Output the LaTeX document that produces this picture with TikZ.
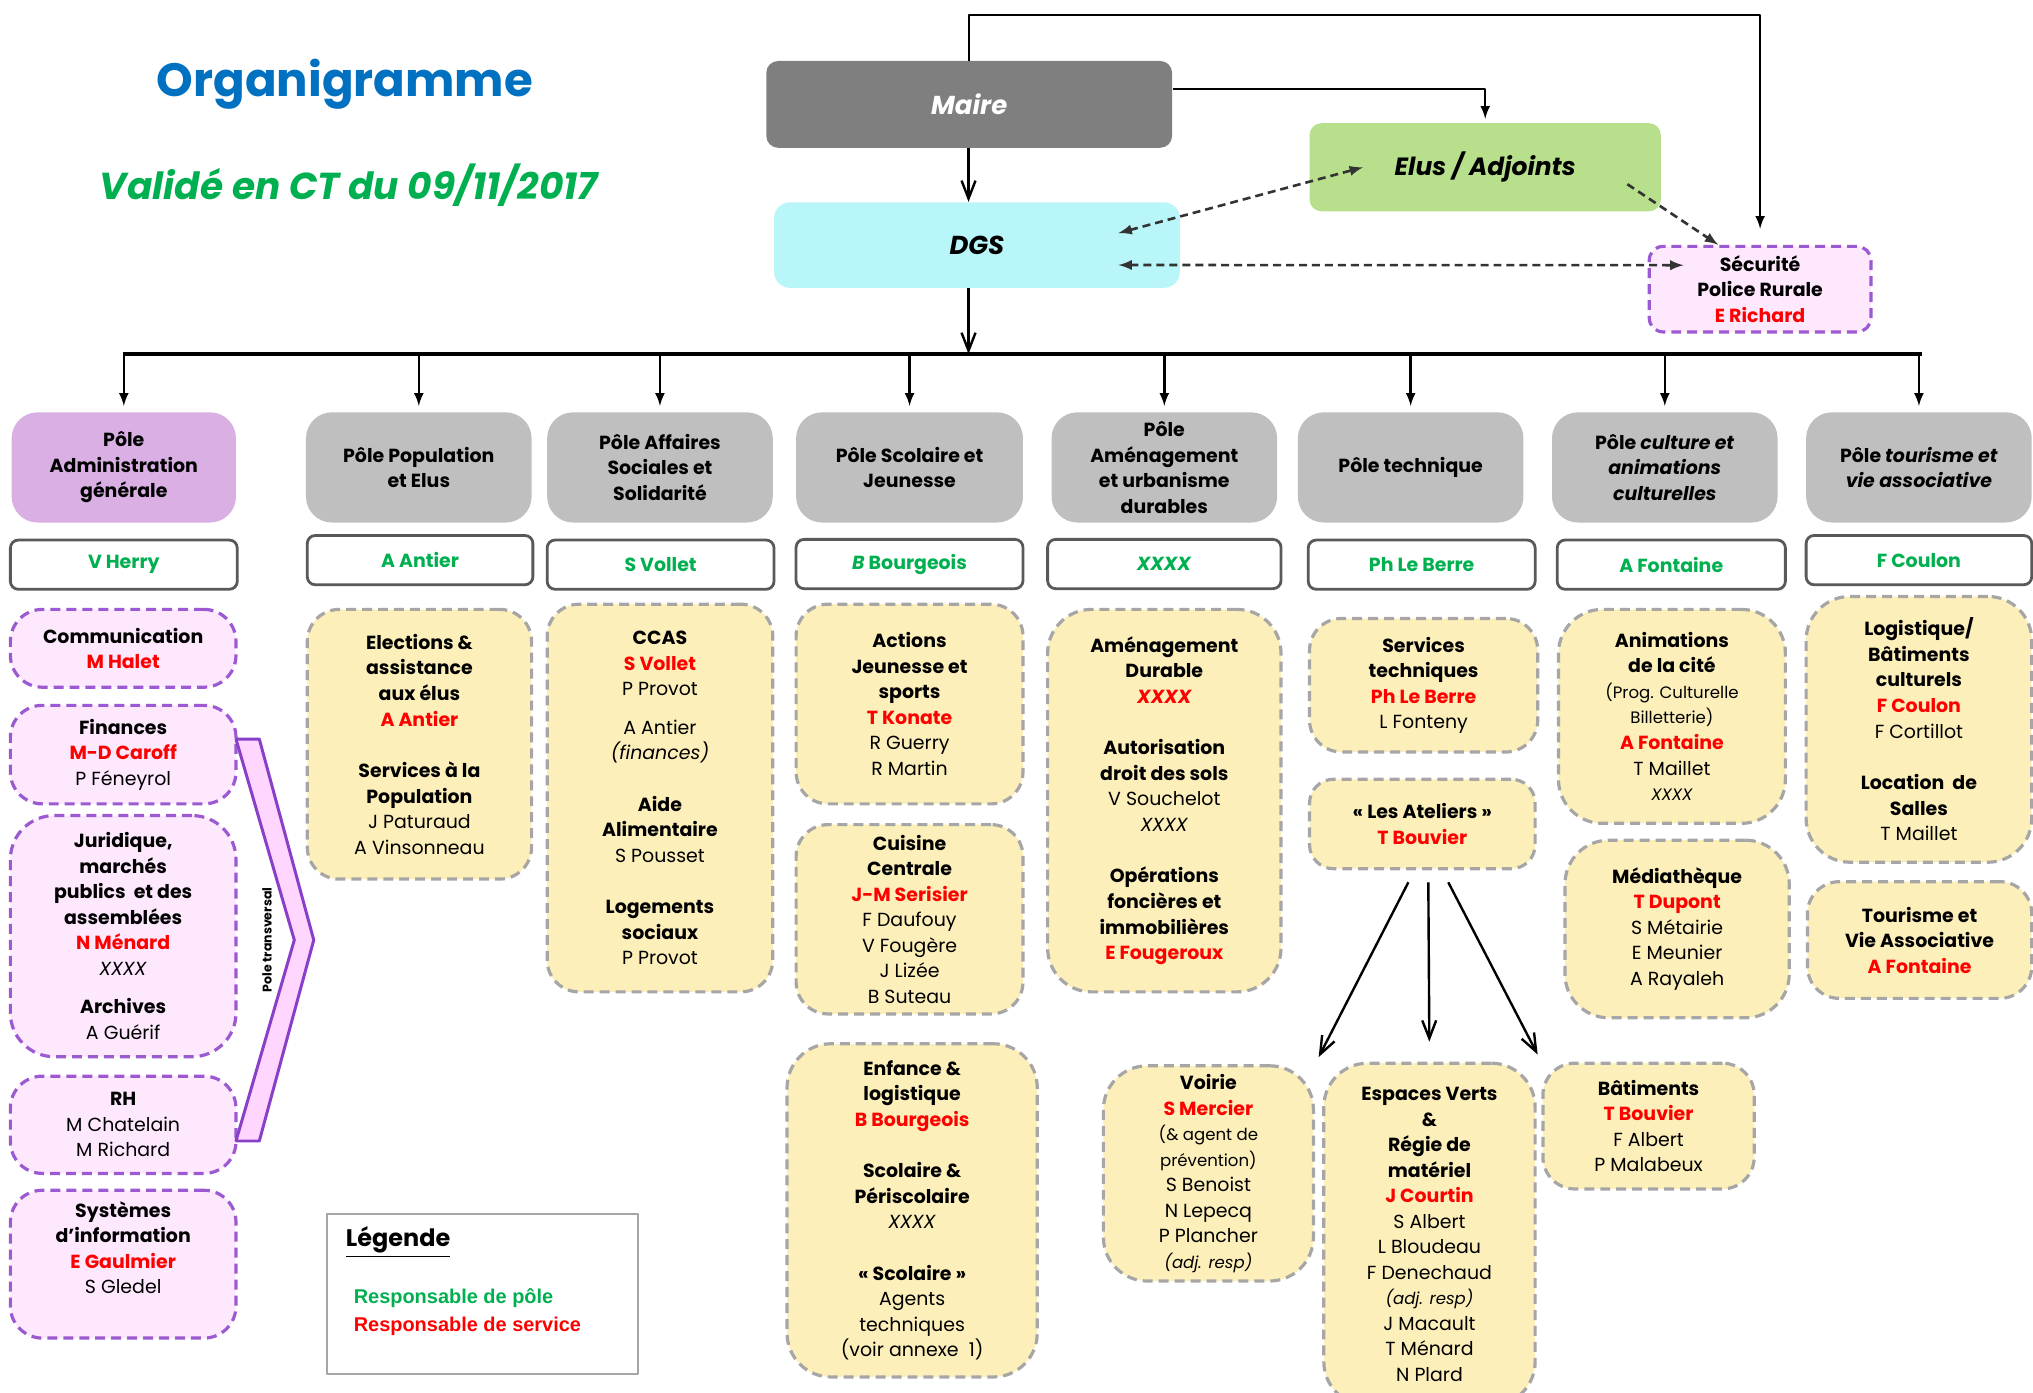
\documentclass[tikz,border=0pt]{standalone}
\usepackage{fontspec}
\setmainfont{Poppins}
\newfontfamily\legfam{Liberation Sans}
\usetikzlibrary{arrows.meta}
\definecolor{maireGray}{HTML}{7F7F7F}
\definecolor{elusGreen}{HTML}{B7DF8C}
\definecolor{dgsCyan}{HTML}{B9F6F9}
\definecolor{poleGray}{HTML}{BFBFBF}
\definecolor{admHead}{HTML}{D9AFE4}
\definecolor{admFill}{HTML}{FEE8FE}
\definecolor{admBorder}{HTML}{9B59D2}
\definecolor{svcFill}{HTML}{FCEFBA}
\definecolor{svcBorder}{HTML}{A6A6A6}
\definecolor{chefBorder}{HTML}{595959}
\definecolor{respGreen}{HTML}{00B050}
\definecolor{respRed}{HTML}{FF0000}
\definecolor{titleBlue}{HTML}{0070C0}
\definecolor{transvFill}{HTML}{FFD6FF}
\definecolor{transvLine}{HTML}{8A3FC8}
\definecolor{dlinkGray}{HTML}{333333}
\newcommand{\resp}[1]{\textcolor{respRed}{\bfseries #1}}
\newcommand{\petit}{\fontsize{8.3}{11}\selectfont}
\begin{document}
\begin{tikzpicture}[>=latex,line join=bevel,x=0.65pt,y=-0.65pt,
  every node/.style={font=\fontsize{9.5}{12.8}\selectfont,align=center,inner sep=1pt},
  sz/.style 2 args={minimum width=#1*0.65pt,minimum height=#2*0.65pt},
  head/.style={fill=poleGray,rounded corners=13pt,font=\fontsize{9.5}{12.8}\selectfont\bfseries},
  chef/.style={draw=chefBorder,line width=1.4pt,fill=white,rounded corners=4pt,text=respGreen,font=\fontsize{9.5}{12.8}\selectfont\bfseries},
  svc/.style={draw=svcBorder,fill=svcFill,line width=1.6pt,dash pattern=on 5pt off 3pt,rounded corners=16pt},
  adm/.style={svc,draw=admBorder,fill=admFill},
  link/.style={line width=1.2pt},
  barb/.style={link,-{Straight Barb[length=9pt,width=7pt]}},
  dlink/.style={line width=1.3pt,draw=dlinkGray,dash pattern=on 4pt off 2.5pt},
]
\useasboundingbox (0,0) rectangle (1568,1074);
%%
\node (node_titre) at (266,65) [text=titleBlue,font=\fontsize{23.4}{28}\selectfont\bfseries] {Organigramme};
\node (node_ct) at (269,143) [text=respGreen,font=\fontsize{18.8}{22}\selectfont\bfseries\itshape] {Validé en CT du 09/11/2017};
%
\node (node_maire) at (747.5,80.5) [fill=maireGray,rounded corners=6pt,sz={313}{67},text=white,font=\fontsize{13}{15}\selectfont\bfseries\itshape] {Maire};
\node (node_elus) at (1145.5,129) [fill=elusGreen,rounded corners=6pt,sz={271}{68},font=\fontsize{12.5}{15}\selectfont\bfseries\itshape] {Elus / Adjoints};
\node (node_dgs) at (753.5,189) [fill=dgsCyan,rounded corners=8pt,sz={313}{66},font=\fontsize{13}{15}\selectfont\bfseries\itshape] {DGS};
\node (node_secu) at (1357.5,223) [adm,sz={171}{66},rounded corners=7pt] {\textbf{Sécurité}\\ \textbf{Police Rurale}\\ \resp{E Richard}};
%
\draw [link,->,shorten >=8pt] (node_maire.north) -- ++(0,-35) -| (node_secu.north);
\draw [link,->,shorten >=2pt] (node_maire.east) ++(0,-12) -| (node_elus.north);
\draw [barb] (node_maire.south -| 747,0) -- (node_dgs.north -| 747,0);
\draw [dlink,<->] ([xshift=-31pt,yshift=6pt]node_dgs.east) -- ([xshift=27pt]node_elus.west);
\draw [dlink,<->] ([xshift=-31pt,yshift=-10pt]node_dgs.east) -- ([xshift=18pt,yshift=12pt]node_secu.west);
\draw [dlink,->] ([xshift=-17pt,yshift=-8.5pt]node_elus.east) -- ([xshift=-21pt]node_secu.north);
%
\coordinate (bus_l) at (95,273);
\coordinate (bus_r) at (1482,273);
\draw [line width=1.8pt] (bus_l) -- (bus_r);
\draw [barb] (node_dgs.south -| 747,0) -- (747,273);
%% poles
\node (node_pole1) at (95.5,360.5) [head,sz={173}{85},fill=admHead] {Pôle\\ Administration\\ générale};
\node (node_pole2) at (323,360.5) [head,sz={174}{85}] {Pôle Population\\ et Elus};
\node (node_pole3) at (509,360.5) [head,sz={174}{85}] {Pôle Affaires\\ Sociales et\\ Solidarité};
\node (node_pole4) at (701.5,360.5) [head,sz={175}{85}] {Pôle Scolaire et\\ Jeunesse};
\node (node_pole5) at (898,360.5) [head,sz={174}{85}] {Pôle\\ Aménagement\\ et urbanisme\\ durables};
\node (node_pole6) at (1088,360.5) [head,sz={174}{85}] {Pôle technique};
\node (node_pole7) at (1284,360.5) [head,sz={174}{85}] {Pôle \textit{culture et}\\ \textit{animations}\\ \textit{culturelles}};
\node (node_pole8) at (1480,360.5) [head,sz={174}{85}] {Pôle \textit{tourisme et}\\ \textit{vie associative}};
\draw [link,->,shorten >=3pt] (node_pole1.north |- bus_l) -- (node_pole1.north);
\draw [link,->,shorten >=3pt] (node_pole2.north |- bus_l) -- (node_pole2.north);
\draw [link,->,shorten >=3pt] (node_pole3.north |- bus_l) -- (node_pole3.north);
\draw [link,->,shorten >=3pt] (node_pole4.north |- bus_l) -- (node_pole4.north);
\draw [link,->,shorten >=3pt] (node_pole5.north |- bus_l) -- (node_pole5.north);
\draw [link,->,shorten >=3pt] (node_pole6.north |- bus_l) -- (node_pole6.north);
\draw [link,->,shorten >=3pt] (node_pole7.north |- bus_l) -- (node_pole7.north);
\draw [link,->,shorten >=3pt] (node_pole8.north |- bus_l) -- (node_pole8.north);
%% responsables de pole
\node (node_chef1) at (95.5,435.5) [chef,sz={175}{38}] {V Herry};
\node (node_chef2) at (324,432) [chef,sz={174}{38}] {A Antier};
\node (node_chef3) at (509.5,435.5) [chef,sz={175}{38}] {S Vollet};
\node (node_chef4) at (701.5,435) [chef,sz={175}{38}] {\textit{B} Bourgeois};
\node (node_chef5) at (898,435) [chef,sz={180}{38}] {\textit{XXXX}};
\node (node_chef6) at (1096.5,435.5) [chef,sz={175}{38}] {Ph Le Berre};
\node (node_chef7) at (1289,435.5) [chef,sz={176}{38}] {A Fontaine};
\node (node_chef8) at (1480,432) [chef,sz={174}{38}] {F Coulon};
%% administration generale
\node (node_com) at (95,500) [adm,sz={174}{60}] {\textbf{Communication}\\ \resp{M Halet}};
\node (node_fin) at (95,582) [adm,sz={174}{76}] {\textbf{Finances}\\ \resp{M-D Caroff}\\ P Féneyrol};
\node (node_jur) at (95,722) [adm,sz={174}{186},rounded corners=22pt] {\textbf{Juridique,}\\ \textbf{marchés}\\ \textbf{publics\ \ et des}\\ \textbf{assemblées}\\ \resp{N Ménard}\\ \textit{XXXX}\\[6.5pt] \textbf{Archives}\\ A Guérif};
\node (node_rh) at (95,867.5) [adm,sz={174}{75}] {\textbf{RH}\\ M Chatelain\\ M Richard};
\node (node_si) at (95,975) [adm,sz={174}{114}] {\textbf{Systèmes}\\ \textbf{d’information}\\ \resp{E Gaulmier}\\ S Gledel\\[4pt]};
\draw [line width=1.5pt,draw=transvLine,fill=transvFill] (182,570) -- (200,570) -- (242,725) -- (200,880) -- (182,880) -- (227,725) -- cycle;
\node (node_transv) at (206,725) [rotate=90,font=\fontsize{6.3}{7}\selectfont\bfseries] {Pole transversal};
%% services
\node (node_pop) at (323.5,574) [svc,sz={173}{208}] {\textbf{Elections \&}\\ \textbf{assistance}\\ \textbf{aux élus}\\ \resp{A Antier}\\[13pt] \textbf{Services à la}\\ \textbf{Population}\\ J Paturaud\\ A Vinsonneau};
\node (node_ccas) at (509,615.5) [svc,sz={174}{299}] {\textbf{CCAS}\\ \resp{S Vollet}\\ P Provot\\[6.5pt] A Antier\\ \textit{(finances)}\\[13pt] \textbf{Aide}\\ \textbf{Alimentaire}\\ S Pousset\\[13pt] \textbf{Logements}\\ \textbf{sociaux}\\ P Provot};
\node (node_jeun) at (701.5,543) [svc,sz={175}{154}] {\textbf{Actions}\\ \textbf{Jeunesse et}\\ \textbf{sports}\\ \resp{T Konate}\\ R Guerry\\ R Martin};
\node (node_cuis) at (701.5,709) [svc,sz={175}{146}] {\textbf{Cuisine}\\ \textbf{Centrale}\\ \resp{J-M Serisier}\\ F Daufouy\\ V Fougère\\ J Lizée\\ B Suteau};
\node (node_enf) at (703.5,933.5) [svc,sz={193}{257},rounded corners=22pt] {\textbf{Enfance \&}\\ \textbf{logistique}\\ \resp{B Bourgeois}\\[13pt] \textbf{Scolaire \&}\\ \textbf{Périscolaire}\\ \textit{XXXX}\\[13pt] \textbf{« Scolaire »}\\ Agents\\ techniques\\ (voir annexe\ \ 1)};
\node (node_amen) at (898,617.5) [svc,sz={180}{295},rounded corners=22pt] {\textbf{Aménagement}\\ \textbf{Durable}\\ \resp{\itshape XXXX}\\[13pt] \textbf{Autorisation}\\ \textbf{droit des sols}\\ V Souchelot\\ \textit{XXXX}\\[13pt] \textbf{Opérations}\\ \textbf{foncières et}\\ \textbf{immobilières}\\ \resp{E Fougeroux}};
\node (node_tech) at (1098,528.5) [svc,sz={176}{103}] {\textbf{Services}\\ \textbf{techniques}\\ \resp{Ph Le Berre}\\ L Fonteny};
\node (node_ateliers) at (1097,635.5) [svc,sz={174}{69},rounded corners=12pt] {\textbf{« Les Ateliers »}\\ \resp{T Bouvier}};
\node (node_voirie) at (932,905) [svc,sz={162}{166},rounded corners=22pt] {\textbf{Voirie}\\ \resp{S Mercier}\\ {\petit (\& agent de}\\ {\petit prévention)}\\ S Benoist\\ N Lepecq\\ P Plancher\\ {\petit\itshape (adj. resp)}};
\node (node_ev) at (1102.5,952) [svc,sz={163}{264},rounded corners=22pt] {\textbf{Espaces Verts}\\ \textbf{\&}\\ \textbf{Régie de}\\ \textbf{matériel}\\ \resp{J Courtin}\\ S Albert\\ L Bloudeau\\ F Denechaud\\ {\petit\itshape (adj. resp)}\\ J Macault\\ T Ménard\\ N Plard};
\node (node_bat) at (1271.5,868.5) [svc,sz={163}{97}] {\textbf{Bâtiments}\\ \resp{T Bouvier}\\ F Albert\\ P Malabeux};
\draw [barb,shorten >=4pt] ([xshift=-7pt,yshift=-6pt]node_ateliers.south) -- (node_voirie.north east);
\draw [barb,shorten >=10pt] ([xshift=3pt,yshift=-6pt]node_ateliers.south) -- (node_ev.north);
\draw [barb,shorten >=4pt] ([xshift=13pt,yshift=-6pt]node_ateliers.south) -- (node_bat.north west);
\node (node_anim) at (1289.5,552.5) [svc,sz={175}{165},rounded corners=22pt] {\textbf{Animations}\\ \textbf{de la cité}\\ {\petit (Prog. Culturelle}\\ {\petit Billetterie)}\\ \resp{A Fontaine}\\ T Maillet\\ {\petit\itshape XXXX}};
\node (node_media) at (1293.5,716.5) [svc,sz={173}{137},rounded corners=22pt] {\textbf{Médiathèque}\\ \resp{T Dupont}\\ S Métairie\\ E Meunier\\ A Rayaleh};
\node (node_logi) at (1480,562.5) [svc,sz={174}{205},rounded corners=22pt] {\textbf{Logistique/}\\ \textbf{Bâtiments}\\ \textbf{culturels}\\ \resp{F Coulon}\\ F Cortillot\\[13pt] \textbf{Location\ \ de}\\ \textbf{Salles}\\ T Maillet};
\node (node_tour) at (1480.5,725) [svc,sz={173}{90}] {\textbf{Tourisme et}\\ \textbf{Vie Associative}\\ \resp{A Fontaine}};
%% legende
\node (node_legende) at (372,998) [draw=svcBorder,line width=1pt,fill=white,sz={240}{124}] {};
\node (node_leg_titre) at (265,958) [anchor=west,font=\fontsize{12}{14}\selectfont\bfseries] {\underline{Légende}};
\node (node_leg_pole) at (271,1001) [anchor=west,text=respGreen,font=\legfam\fontsize{10}{12}\selectfont\bfseries] {Responsable de pôle};
\node (node_leg_serv) at (271,1023) [anchor=west,text=respRed,font=\legfam\fontsize{10}{12}\selectfont\bfseries] {Responsable de service};
%
\end{tikzpicture}
\end{document}
